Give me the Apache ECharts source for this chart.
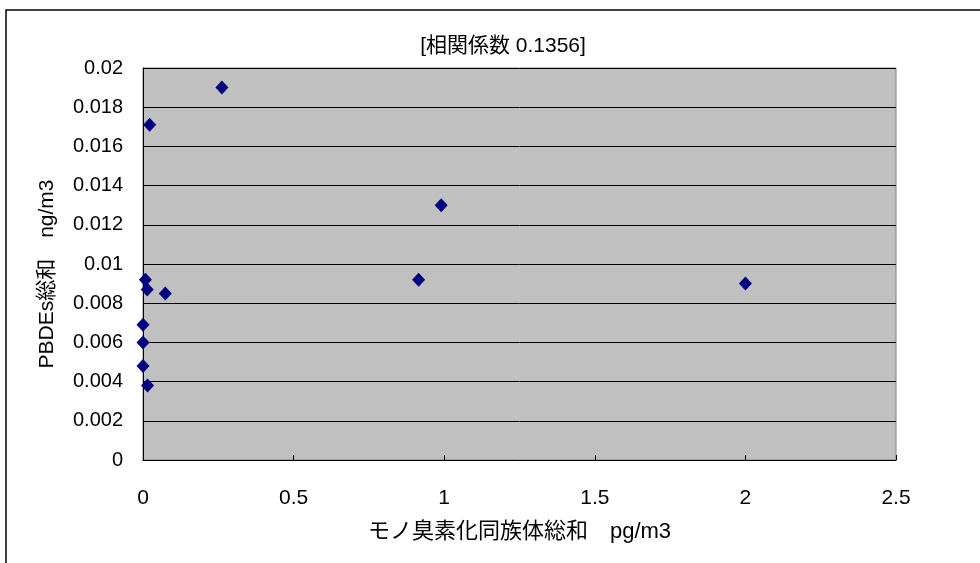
<!DOCTYPE html>
<html>
<head>
<meta charset="utf-8">
<script src="https://cdn.jsdelivr.net/npm/echarts@6/dist/echarts.min.js"></script>
<style>
html,body{margin:0;padding:0;background:#fff;}
#c{width:980px;height:563px;}
</style>
</head>
<body>
<div id="c"></div>
<script>
// Data: x = モノ臭素化同族体総和 (pg/m3), y = PBDEs総和 (ng/m3)
var xValues = [0.262, 0.022, 0.99, 0.915, 2.0, 0.008, 0.014, 0.074, 0.0, 0.0, 0.0, 0.015];
var yValues = [0.0190, 0.0171, 0.0130, 0.0092, 0.0090, 0.0092, 0.0087, 0.0085, 0.0069, 0.0060, 0.0048, 0.0038];
var titleText = '[相関係数 0.1356]';
var xAxisName = 'モノ臭素化同族体総和　pg/m3';
var yAxisName = 'PBDEs総和　ng/m3';

var FONT = '"Liberation Sans", Arial, "Noto Sans CJK JP", sans-serif';
var points = xValues.map(function (x, i) { return [x, yValues[i]]; });

var chart = echarts.init(document.getElementById('c'), null, {renderer: 'canvas'});
chart.setOption({
  backgroundColor: '#ffffff',
  animation: false,
  textStyle: {fontFamily: FONT},
  graphic: [{
    type: 'rect',
    shape: {x: 6, y: 10, width: 1000, height: 600},
    style: {fill: 'none', stroke: '#000', lineWidth: 1.5},
    silent: true, z: -1
  }],
  title: {
    text: titleText,
    left: 498, top: 31, textAlign: 'center',
    textStyle: {fontFamily: FONT, fontSize: 21, fontWeight: 'normal', color: '#000'}
  },
  grid: {
    left: 143, top: 68, right: 84, bottom: 103,
    show: true, backgroundColor: '#c0c0c0', borderColor: '#808080', borderWidth: 1
  },
  xAxis: {
    type: 'value', min: 0, max: 2.5, interval: 0.5,
    name: xAxisName, nameLocation: 'middle', nameGap: 61,
    nameTextStyle: {fontFamily: FONT, fontSize: 22, color: '#000'},
    axisLine: {lineStyle: {color: '#000', width: 1}},
    axisTick: {show: true, inside: true, length: 5, lineStyle: {color: '#000'}},
    axisLabel: {fontFamily: FONT, fontSize: 21, color: '#000', margin: 28,
      formatter: function (v) { return String(+v.toFixed(2)); }},
    splitLine: {show: false}
  },
  yAxis: {
    type: 'value', min: 0, max: 0.02, interval: 0.002,
    name: yAxisName, nameLocation: 'middle', nameGap: 85, nameRotate: 90,
    nameTextStyle: {fontFamily: FONT, fontSize: 21, color: '#000', padding: [0, 20, 0, 0]},
    axisLine: {lineStyle: {color: '#000', width: 1}},
    axisTick: {show: true, inside: true, length: 5, lineStyle: {color: '#000'}},
    axisLabel: {fontFamily: FONT, fontSize: 20, color: '#000', margin: 20,
      formatter: function (v) { return String(+v.toFixed(3)); }},
    splitLine: {show: true, lineStyle: {color: '#000', width: 1}}
  },
  series: [{
    type: 'scatter',
    data: points,
    symbol: 'diamond',
    symbolSize: [13, 14],
    itemStyle: {color: '#000080', opacity: 1}
  }]
});
</script>
</body>
</html>
